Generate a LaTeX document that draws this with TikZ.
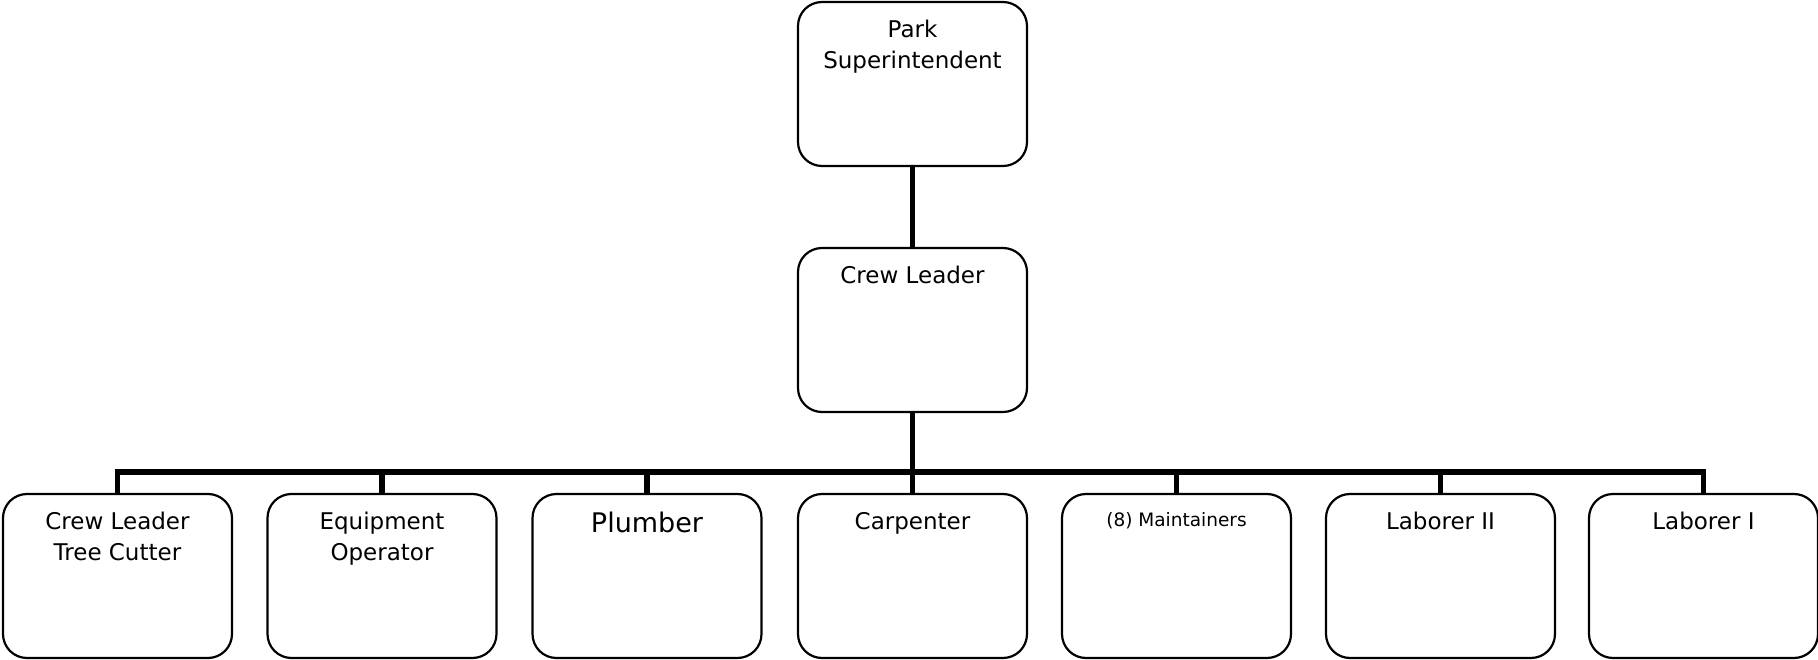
\documentclass[tikz,border=0pt]{standalone}
\usepackage{fontspec}
\setmainfont{DejaVu Sans}
\begin{document}
\begin{tikzpicture}[x=1pt,y=-1pt,
  box/.style={draw, line width=2.2pt, rounded corners=24pt,
    minimum width=229pt, minimum height=164pt, inner sep=0pt, fill=white},
  title/.style={inner sep=0pt, align=center, anchor=north, yshift=-19pt,
    font=\fontsize{23}{31}\selectfont},
  conn/.style={line width=5.5pt, line join=miter}
]
\useasboundingbox (0,0) rectangle (1818,660);

% reporting line coordinate (horizontal bus)
\coordinate (bus) at (0,472);

% upper levels
\node[box, label={[title]north:{Park\\Superintendent}}] (ps) at (912.5,84) {};
\node[box, label={[title]north:{Crew Leader}}] (cl) at (912.5,330) {};

% staff row
\node[box, label={[title]north:{Crew Leader\\Tree Cutter}}] (ctc) at (117.5,576) {};
\node[box, label={[title]north:{Equipment\\Operator}}] (eo) at (382,576) {};
\node[box, label={[title, font=\fontsize{27}{31}\selectfont]north:{Plumber}}] (pl) at (647,576) {};
\node[box, label={[title]north:{Carpenter}}] (cp) at (912.5,576) {};
\node[box, label={[title, font=\fontsize{18.5}{24}\selectfont]north:{(8) Maintainers}}] (mt) at (1176.5,576) {};
\node[box, label={[title]north:{Laborer II}}] (l2) at (1440.5,576) {};
\node[box, label={[title]north:{Laborer I}}] (l1) at (1703.5,576) {};

% connectors
\draw[conn] (ps.south) -- (cl.north);
\foreach \c in {ctc,eo,pl,cp,mt,l2,l1}
  \draw[conn] (cl.south) -- (cl.south |- bus) -| (\c.north);
\end{tikzpicture}
\end{document}
